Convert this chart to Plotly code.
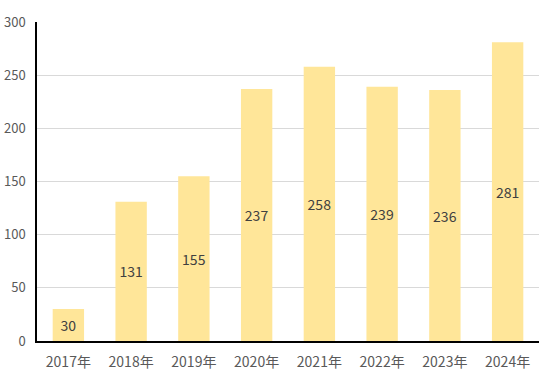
import plotly.graph_objects as go

categories = ["2017年", "2018年", "2019年", "2020年", "2021年", "2022年", "2023年", "2024年"]
values = [30, 131, 155, 237, 258, 239, 236, 281]
y_ticks = [0, 50, 100, 150, 200, 250, 300]

fig = go.Figure(go.Bar(
    x=categories, y=values,
    marker=dict(color="#FFE699", line=dict(width=0)),
    width=0.5,
    text=[str(v) for v in values],
    textposition="inside",
    insidetextanchor="middle",
    textfont=dict(size=14, color="#404040", family="Noto Sans CJK JP"),
    textangle=0,
    hoverinfo="skip",
))

fig.update_layout(
    width=540, height=392,
    margin=dict(l=37, r=1, t=22, b=51, autoexpand=False),
    paper_bgcolor="white", plot_bgcolor="white",
    font=dict(family="Noto Sans CJK JP", size=14, color="#595959"),
    showlegend=False,
    uniformtext=dict(mode=False),
    xaxis=dict(showline=True, linecolor="black", linewidth=1.5, ticks="", showgrid=False,
               automargin=False, ticklabelstandoff=7,
               tickfont=dict(size=14, color="#595959")),
    yaxis=dict(range=[0, 300], tickvals=y_ticks, showline=True, linecolor="black", linewidth=1.5,
               showgrid=True, gridcolor="#D9D9D9", gridwidth=1, ticks="", zeroline=False,
               automargin=False, ticklabelstandoff=7,
               tickfont=dict(size=13, color="#595959")),
)

fig.write_html("out.html", config={"displayModeBar": False},
               post_script="document.body.style.margin='0';document.body.style.overflow='hidden';")
